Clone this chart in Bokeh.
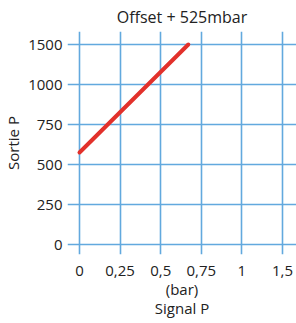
import numpy as np
from bokeh.plotting import figure
from bokeh.models import FixedTicker, Range1d
from bokeh.embed import file_html
from bokeh.resources import INLINE

# tick values (evenly spaced on the chart, as in the reference)
x_tick_values = [0, 0.25, 0.5, 0.75, 1, 1.5]
x_tick_labels = ["0", "0,25", "0,5", "0,75", "1", "1,5"]
y_tick_values = [0, 250, 500, 750, 1000, 1500]
y_tick_labels = ["0", "250", "500", "750", "1000", "1500"]

# series: Signal P (bar) -> Sortie P (mbar)
signal_bar = [0.0, 0.67]
sortie_mbar = [575, 1500]

xi = np.arange(len(x_tick_values))
yi = np.arange(len(y_tick_values))
xs = np.interp(signal_bar, x_tick_values, xi)
ys = np.interp(sortie_mbar, y_tick_values, yi)

FONT = "Open Sans"
GRID = "#62a9de"
TXT = "#222222"

p = figure(frame_width=229, frame_height=223, output_backend="svg", toolbar_location=None,
           x_range=Range1d(-0.296, 5.345), y_range=Range1d(-0.25, 5.325),
           title="Offset + 525mbar", min_border_right=0, min_border_top=0,
           min_border_left=0, min_border_bottom=0)
p.outline_line_color = None
p.background_fill_color = "white"
p.border_fill_color = "white"

p.title.align = "center"
p.title.text_font = FONT
p.title.text_font_style = "normal"
p.title.text_font_size = "16px"
p.title.text_color = TXT
p.title.standoff = 7

p.xaxis.ticker = FixedTicker(ticks=list(xi))
p.yaxis.ticker = FixedTicker(ticks=list(yi))
p.xaxis.major_label_overrides = {int(i): l for i, l in zip(xi, x_tick_labels)}
p.yaxis.major_label_overrides = {int(i): l for i, l in zip(yi, y_tick_labels)}

for ax in (p.xaxis[0], p.yaxis[0]):
    ax.axis_line_color = None
    ax.major_tick_line_color = None
    ax.minor_tick_line_color = None
    ax.major_tick_out = 0
    ax.major_tick_in = 0
    ax.minor_tick_out = 0
    ax.minor_tick_in = 0
    ax.major_label_text_font = FONT
    ax.major_label_text_font_size = "15px"
    ax.major_label_text_color = TXT
    ax.axis_label_text_font = FONT
    ax.axis_label_text_font_size = "15px"
    ax.axis_label_text_font_style = "normal"
    ax.axis_label_text_color = TXT

p.xaxis.axis_label = "(bar)\nSignal P"
p.xaxis.axis_label_text_line_height = 0.95
p.xaxis.major_label_standoff = 11
p.xaxis.axis_label_standoff = 0
p.yaxis.axis_label = "Sortie P"
p.yaxis.major_label_standoff = 5
p.yaxis.axis_label_standoff = 2

p.grid.grid_line_color = GRID
p.grid.grid_line_width = 1.6

p.line(xs, ys, line_color="#e2312b", line_width=4, line_cap="round")

open("out.html", "w").write(file_html(p, INLINE))
